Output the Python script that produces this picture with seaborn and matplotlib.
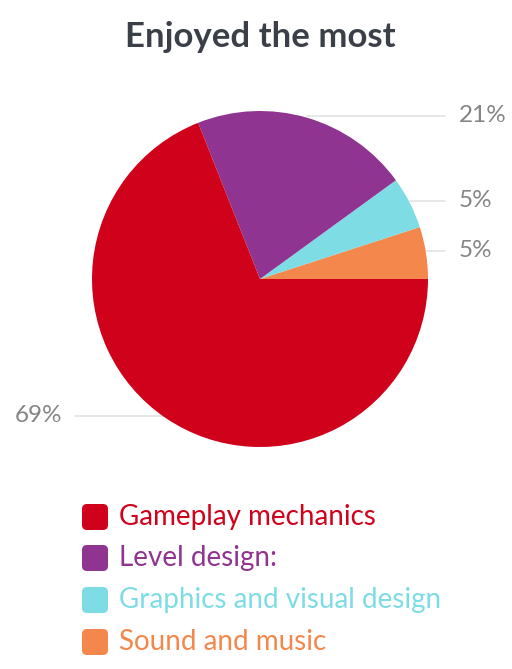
import matplotlib
matplotlib.use("Agg")
import matplotlib.pyplot as plt
import numpy as np
import seaborn as sns
from matplotlib.patches import FancyBboxPatch

sns.set_theme(style="white")
plt.rcParams["font.family"] = ["Lato", "DejaVu Sans"]

title = "Enjoyed the most"
categories = ["Gameplay mechanics", "Level design:", "Graphics and visual design", "Sound and music"]
shares = [69, 21, 5, 5]
colors = ["#d0011b", "#8f3490", "#7edce4", "#f4874b"]
label_text = ["69%", "21%", "5%", "5%"]

fig = plt.figure(figsize=(5.12, 6.69), dpi=100)
ax = fig.add_axes([0, 0, 1, 1])

cx, cy, r = 260, 390, 168

# draw slices counter-clockwise from 3 o'clock, smallest slice first
order = list(range(len(shares)))[::-1]
wedges, _ = ax.pie([shares[i] for i in order], colors=[colors[i] for i in order],
                   startangle=0, counterclock=True, center=(cx, cy), radius=r,
                   frame=True, wedgeprops=dict(linewidth=0))
ax.set_xlim(0, 512)
ax.set_ylim(0, 669)
ax.axis("off")

# connectors and percentage labels
for w, i in zip(wedges, order):
    mid = np.deg2rad((w.theta1 + w.theta2) / 2)
    ex, ey = cx + r * np.cos(mid), cy + r * np.sin(mid)
    if np.cos(mid) >= 0:
        ax.plot([ex, 445], [ey + 2, ey + 2], color="#e3e3e3", lw=1.2, zorder=0)
        ax.text(459, ey + 2, label_text[i], ha="left", va="center",
                fontsize=17.5, color="#858585")
    else:
        ax.plot([75, ex], [ey + 2, ey + 2], color="#e3e3e3", lw=1.2, zorder=0)
        ax.text(62, ey + 2, label_text[i], ha="right", va="center",
                fontsize=17.5, color="#858585")

ax.text(cx, 669 - 37, title, ha="center", va="center", fontsize=25,
        fontweight="bold", color="#3b4048")

# legend
row_y = [517, 558, 600, 642]
for name, col, y in zip(categories, colors, row_y):
    yy = 669 - y
    ax.add_patch(FancyBboxPatch((82, yy - 13), 26, 26,
                                boxstyle="round,pad=0,rounding_size=5",
                                facecolor=col, edgecolor="none"))
    ax.text(119, yy, name, ha="left", va="center", fontsize=20, color=col)

fig.savefig("out.png", dpi=100)
